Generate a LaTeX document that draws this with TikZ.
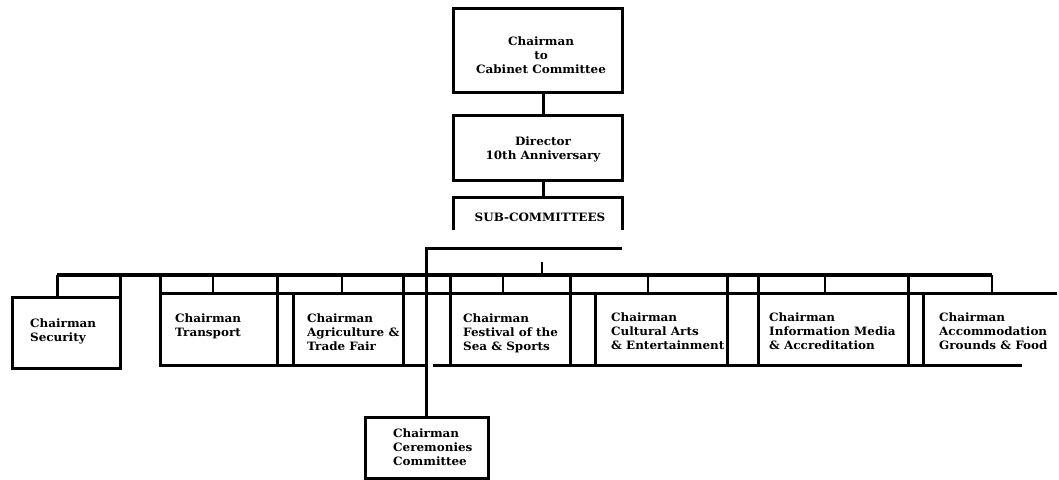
\documentclass[tikz,border=0pt]{standalone}
\usepackage{fontspec}
\newfontfamily\chartfont[FakeStretch=1.04]{DejaVu Serif Bold}
\begin{document}
\begin{tikzpicture}[x=1pt,y=-1pt,
  box/.style={draw, line width=3pt, inner sep=0, outer sep=0, anchor=north west},
  openbox/.style={inner sep=0, outer sep=0, anchor=north west},
  lbl/.style={font=\chartfont\fontsize{11.5}{14}\selectfont, inner sep=0},
  lblL/.style={lbl, align=left, anchor=west},
  wire/.style={line width=3pt},
  bus/.style={line width=3.6pt},
  tick/.style={line width=2pt}]
\useasboundingbox (0,0) rectangle (1059,479);

% top chain
\node[box, minimum width=169pt, minimum height=84pt] (chair) at (453,8) {};
\node[lbl, align=center] (chairT) at (541,55) {Chairman\\to\\Cabinet Committee};
\node[box, minimum width=169pt, minimum height=65pt] (dir) at (453,115) {};
\node[lbl, align=center] (dirT) at (543,149) {Director\\10th Anniversary};
\node[openbox, minimum width=169pt, minimum height=33pt] (sub) at (453,197) {};
\node[lbl] (subT) at (540,217) {SUB-COMMITTEES};
\draw[wire] (sub.south west) -- (sub.north west) -- (sub.north east) -- (sub.south east);

\draw[wire] ([xshift=5.5pt]chair.south) -- ([xshift=5.5pt]dir.north);
\draw[wire] ([xshift=5.5pt]dir.south) -- ([xshift=5.5pt]sub.north);

% sub-committee boxes
\node[box, minimum width=108pt, minimum height=71pt] (sec) at (12,297) {};
\node[box, minimum width=117pt, minimum height=72pt] (trans) at (160,293) {};
\node[box, minimum width=110pt, minimum height=72pt] (agri) at (293,293) {};
\node[box, minimum width=120pt, minimum height=72pt] (fest) at (450,293) {};
\node[box, minimum width=132pt, minimum height=72pt] (cult) at (595,293) {};
\node[box, minimum width=150pt, minimum height=72pt] (info) at (758,293) {};
\node[openbox, minimum width=134pt, minimum height=72pt] (acc) at (923,293) {};
\draw[wire] (acc.north east) -- (acc.north west) -- (acc.south west) -- ([xshift=-35pt]acc.south east);
\node[box, minimum width=123pt, minimum height=61pt] (cer) at (365,417) {};

\node[lblL] (secT) at (30,331) {Chairman\\Security};
\node[lblL] (transT) at (175,326) {Chairman\\Transport};
\node[lblL] (agriT) at (307,332) {Chairman\\Agriculture \&\\Trade Fair};
\node[lblL] (festT) at (463,333) {Chairman\\Festival of the\\Sea \& Sports};
\node[lblL] (cultT) at (611,331) {Chairman\\Cultural Arts\\\& Entertainment};
\node[lblL] (infoT) at (769,331) {Chairman\\Information Media\\\& Accreditation};
\node[lblL] (accT) at (939,331) {Chairman\\Accommodation\\Grounds \& Food};
\node[lblL] (cerT) at (393,447) {Chairman\\Ceremonies\\Committee};

% bus
\coordinate (busL) at (57,275);
\coordinate (busR) at (992,275);
\draw[bus] (busL) -- (busR);
\coordinate (subtick) at (542,262);
\draw[tick] (subtick) -- (subtick |- busL);

% row top and bottom rails
\draw[wire] (trans.north west) -- (acc.north east);
\draw[wire] (trans.south west) -- ([xshift=-1pt]cer.north |- trans.south);
\draw[wire] ([xshift=6pt]cer.north |- fest.south) -- ([xshift=-35pt]acc.south east);
\draw[wire] (trans.south west) -- ([yshift=7pt]trans.south west);

% security tab
\draw[wire] (busL) -- (busL |- sec.north);
\draw[wire] (sec.north east) -- (sec.north east |- busL);

% edges rising to the bus
\foreach \a in {trans.north west, trans.north east, agri.north east, fest.north west,
                fest.north east, cult.north east, info.north west, info.north east}
  \draw[wire] (\a) -- (\a |- busL);

% ticks from the bus to each box
\foreach \a/\s in {trans/-5.5, agri/-6, fest/-7, cult/-13, info/-8}
  \draw[tick] ([xshift=\s pt]\a.north) -- ([xshift=\s pt]\a.north |- busL);
\draw[tick] (busR) -- (busR |- acc.north);

% ceremonies feed
\coordinate (cerFeed) at (622,248);
\draw[wire] (cerFeed) -| (cer.north);
\end{tikzpicture}
\end{document}
